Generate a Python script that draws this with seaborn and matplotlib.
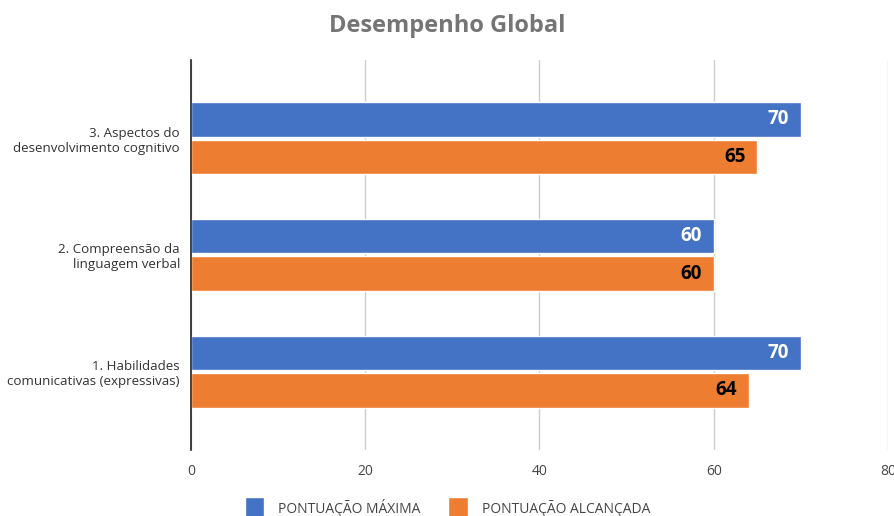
import pandas as pd
import matplotlib.pyplot as plt
import seaborn as sns

# --- data ---
categorias = ["3. Aspectos do\ndesenvolvimento cognitivo",
              "2. Compreensão da\nlinguagem verbal",
              "1. Habilidades\ncomunicativas (expressivas)"]
pont_maxima = [70, 60, 70]
pont_alcancada = [65, 60, 64]
series = ["PONTUAÇÃO MÁXIMA", "PONTUAÇÃO ALCANÇADA"]
x_ticks = [0, 20, 40, 60, 80]

df = pd.DataFrame({
    "categoria": categorias * 2,
    "valor": pont_maxima + pont_alcancada,
    "serie": [series[0]] * 3 + [series[1]] * 3,
})

sns.set_theme(style="white")
plt.rcParams['font.family'] = ['Open Sans', 'DejaVu Sans']

fig = plt.figure(figsize=(8.95, 5.16), dpi=100)
ax = fig.add_axes([0.2134, 0.128, 0.7787, 0.756])

cores = {"PONTUAÇÃO MÁXIMA": "#4472C4", "PONTUAÇÃO ALCANÇADA": "#ED7D31"}
sns.barplot(data=df, y="categoria", x="valor", hue="serie", palette=cores,
            orient="h", width=0.64, gap=0.08, saturation=1, ax=ax, legend=True)

ax.set_xlim(0, 80)
ax.set_ylim(2.67, -0.67)
ax.set_xticks(x_ticks)
ax.set_xticklabels([str(t) for t in x_ticks], color="#444444", fontsize=10)
ax.tick_params(axis="y", labelsize=9.6, labelcolor="#333333", length=0, pad=8)
ax.tick_params(axis="x", length=0, pad=10)
ax.set_xlabel("")
ax.set_ylabel("")
ax.xaxis.grid(True, color="#cccccc", linewidth=1)
ax.set_axisbelow(True)
for s in ["top", "right", "bottom"]:
    ax.spines[s].set_visible(False)
ax.spines["left"].set_color("#222222")
ax.spines["left"].set_linewidth(1.2)

# value labels inside the bars
for i, cont in enumerate(ax.containers):
    ax.bar_label(cont, padding=-24, fontsize=13.5, fontweight="bold",
                 color="white" if i == 0 else "black")

fig.suptitle("Desempenho Global", y=0.973, fontsize=17, fontweight="bold",
             color="#757575")

handles, labels = ax.get_legend_handles_labels()
ax.legend_.remove()
fig.legend(handles, labels, loc="center", bbox_to_anchor=(0.5, 0.015), ncol=2,
           frameon=False, fontsize=10, handlelength=1.4, handleheight=2.1,
           handletextpad=1.0, columnspacing=2.0, labelcolor="#444444")

fig.savefig("out.png", dpi=100)
